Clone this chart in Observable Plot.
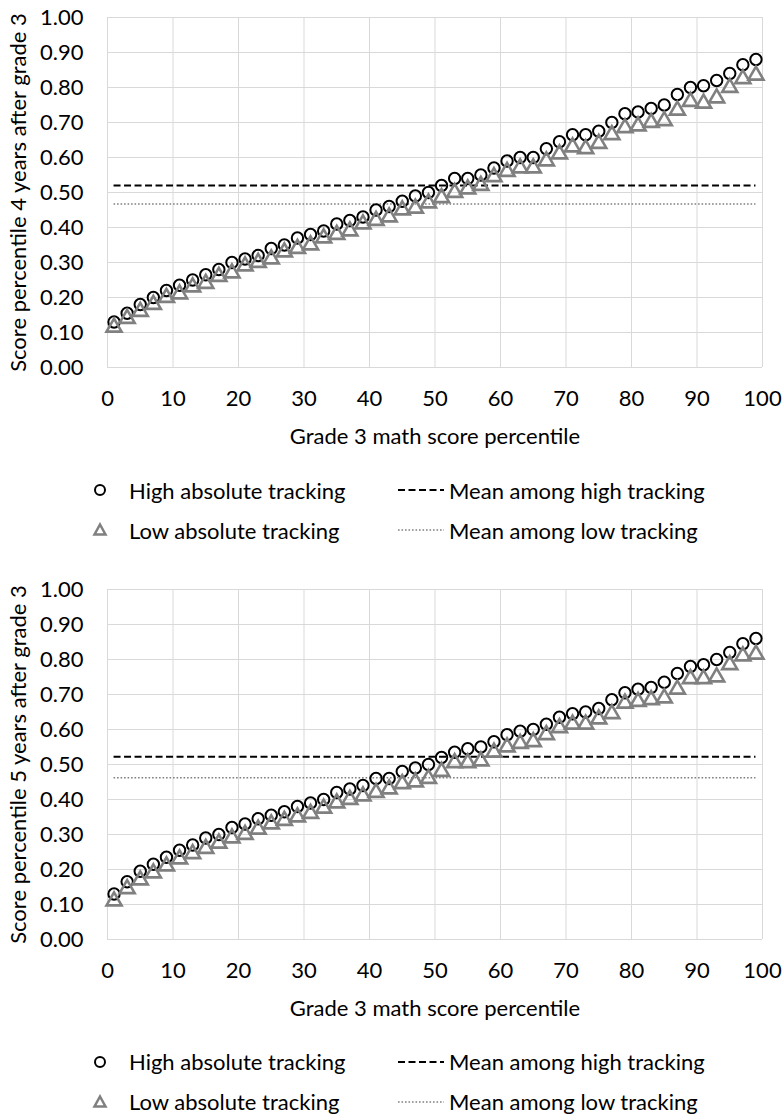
<!DOCTYPE html>
<html><head><meta charset="utf-8">
<script src="https://cdn.jsdelivr.net/npm/d3@7"></script>
<script src="https://cdn.jsdelivr.net/npm/@observablehq/plot@0.6"></script>
<style>
body{margin:0;background:#fff;font-family:Lato,sans-serif;}
.panel{position:relative;width:782px;}
.legend{position:relative;width:782px;font-size:22px;color:#000;}
.item{position:absolute;display:flex;align-items:center;height:30px;white-space:nowrap;}
.item svg{display:block;}
</style></head><body><div id="root"></div>
<script>
// Grade 3 percentile (x positions of the points)
const percentiles = [1,3,5,7,9,11,13,15,17,19,21,23,25,27,29,31,33,35,37,39,41,43,45,47,49,
                     51,53,55,57,59,61,63,65,67,69,71,73,75,77,79,81,83,85,87,89,91,93,95,97,99];
// Panel 1: 4 years after grade 3
const high4 = [0.13,0.155,0.18,0.20,0.22,0.235,0.25,0.265,0.28,0.30,0.31,0.32,0.34,0.35,0.37,0.38,0.39,0.41,0.42,0.43,0.45,0.46,0.475,0.49,0.50,
               0.52,0.54,0.54,0.55,0.57,0.59,0.60,0.60,0.625,0.645,0.665,0.665,0.675,0.70,0.725,0.73,0.74,0.75,0.78,0.80,0.805,0.82,0.84,0.865,0.88];
const low4 = [0.115,0.14,0.16,0.18,0.20,0.21,0.23,0.24,0.26,0.27,0.29,0.30,0.31,0.33,0.34,0.35,0.37,0.38,0.39,0.41,0.42,0.43,0.45,0.455,0.47,
              0.485,0.50,0.51,0.52,0.545,0.56,0.57,0.57,0.59,0.61,0.63,0.625,0.64,0.665,0.685,0.69,0.70,0.705,0.735,0.76,0.755,0.77,0.80,0.825,0.835];
const meanHigh4 = 0.52;
const meanLow4 = 0.467;
// Panel 2: 5 years after grade 3
const high5 = [0.13,0.165,0.195,0.215,0.235,0.255,0.27,0.29,0.30,0.32,0.33,0.345,0.355,0.365,0.38,0.39,0.40,0.42,0.43,0.44,0.46,0.46,0.48,0.49,0.50,
               0.52,0.535,0.545,0.55,0.565,0.585,0.595,0.60,0.615,0.635,0.645,0.65,0.66,0.685,0.705,0.715,0.72,0.735,0.76,0.78,0.785,0.80,0.82,0.845,0.86];
const low5 = [0.11,0.145,0.17,0.19,0.21,0.23,0.245,0.26,0.275,0.29,0.30,0.315,0.33,0.34,0.35,0.36,0.375,0.39,0.40,0.41,0.42,0.43,0.445,0.45,0.46,
              0.48,0.505,0.505,0.51,0.535,0.55,0.56,0.565,0.585,0.605,0.615,0.615,0.63,0.645,0.675,0.68,0.685,0.69,0.715,0.745,0.745,0.75,0.785,0.81,0.815];
const meanHigh5 = 0.522;
const meanLow5 = 0.462;

const xTicks = [0,10,20,30,40,50,60,70,80,90,100];
const yTicks = [0,0.1,0.2,0.3,0.4,0.5,0.6,0.7,0.8,0.9,1.0];
const xTitle = "Grade 3 math score percentile";
const yTitles = ["Score percentile 4 years after grade 3", "Score percentile 5 years after grade 3"];
const legendLabels = ["High absolute tracking", "Low absolute tracking", "Mean among high tracking", "Mean among low tracking"];

const FONT = "Lato, sans-serif";
const GRID = "#d9d9d9";
const GRAY = "#808080";

function makePanel(high, low, meanHigh, meanLow, yTitle, legendHeight) {
  const rows = percentiles.map((p, i) => ({p, high: high[i], low: low[i]}));
  const xMin = d3.min(percentiles), xMax = d3.max(percentiles);
  const chart = Plot.plot({
    width: 782, height: 450,
    marginLeft: 107, marginRight: 20, marginTop: 17, marginBottom: 83,
    style: {fontFamily: FONT, fontSize: "22px", color: "#000", background: "#fff"},
    x: {domain: [0, 100]},
    y: {domain: [0, 1]},
    marks: [
      Plot.gridX(xTicks, {stroke: GRID, strokeOpacity: 1, strokeWidth: 1}),
      Plot.gridY(yTicks, {stroke: GRID, strokeOpacity: 1, strokeWidth: 1}),
      Plot.axisX(xTicks, {tickSize: 0, tickPadding: 23, label: xTitle, labelAnchor: "center", labelArrow: "none", labelOffset: 76}),
      Plot.axisY(yTicks, {tickSize: 0, tickPadding: 24, tickFormat: d3.format(".2f"), label: yTitle, labelAnchor: "center", labelArrow: "none", labelOffset: 97}),
      Plot.ruleY([meanHigh], {x1: xMin, x2: xMax, stroke: "#000", strokeWidth: 2, strokeDasharray: "7,3.5"}),
      Plot.ruleY([meanLow], {x1: xMin, x2: xMax, stroke: GRAY, strokeWidth: 1.6, strokeDasharray: "1.6,1.9"}),
      Plot.dot(rows, {x: "p", y: "high", r: 5.7, stroke: "#000", strokeWidth: 2, fill: "none"}),
      Plot.dot(rows, {x: "p", y: "low", symbol: "triangle", r: 5.6, stroke: GRAY, strokeWidth: 2.6, fill: "none"})
    ]
  });
  const wrap = document.createElement("div");
  wrap.className = "panel";
  wrap.appendChild(chart);

  const leg = document.createElement("div");
  leg.className = "legend";
  leg.style.height = legendHeight + "px";
  const items = [
    {left: 92, top: 25, sym: `<svg width="16" height="16"><circle cx="8" cy="8" r="5" fill="none" stroke="#000" stroke-width="2"/></svg>`, gap: 21, text: legendLabels[0]},
    {left: 92, top: 65, sym: `<svg width="16" height="16"><path d="M8,2.5L13.5,12.5L2.5,12.5Z" fill="none" stroke="${GRAY}" stroke-width="2.5"/></svg>`, gap: 21, text: legendLabels[1]},
    {left: 398, top: 25, sym: `<svg width="46" height="6"><line x1="0" y1="3" x2="46" y2="3" stroke="#000" stroke-width="2" stroke-dasharray="7,3.5"/></svg>`, gap: 5, text: legendLabels[2]},
    {left: 398, top: 65, sym: `<svg width="46" height="6"><line x1="0" y1="3" x2="46" y2="3" stroke="${GRAY}" stroke-width="1.6" stroke-dasharray="1.6,1.9"/></svg>`, gap: 5, text: legendLabels[3]}
  ];
  for (const it of items) {
    const d = document.createElement("div");
    d.className = "item";
    d.style.left = it.left + "px";
    d.style.top = it.top + "px";
    d.innerHTML = it.sym + `<span style="margin-left:${it.gap}px">${it.text}</span>`;
    leg.appendChild(d);
  }
  wrap.appendChild(leg);
  return wrap;
}

const root = document.getElementById("root");
root.appendChild(makePanel(high4, low4, meanHigh4, meanLow4, yTitles[0], 121.6));
root.appendChild(makePanel(high5, low5, meanHigh5, meanLow5, yTitles[1], 92));
</script>
</body></html>
